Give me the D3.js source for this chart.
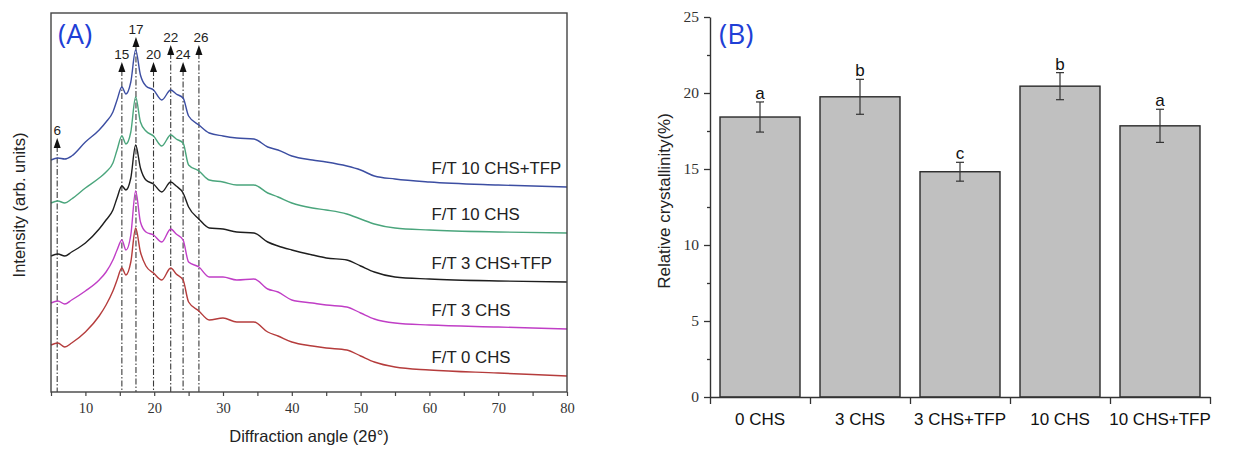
<!DOCTYPE html>
<html><head><meta charset="utf-8">
<script src="https://cdn.jsdelivr.net/npm/d3@7"></script>
<style>body{margin:0;background:#fff}</style>
</head><body>
<svg id="c" width="1237" height="454"></svg>
<script>
// ---------- Panel A data ----------
const angles = [5,6,7,8,10,12,13,14,14.6,15.3,15.9,16.6,17.3,18,18.8,19.9,21.1,22.4,23.2,24.2,25,26.5,28,30,32,34.5,36.5,38,40,43,45,48,50,52,55,60,70,80];
const intensity0CHS = [47,49,45,49,60,76,87,101,112,124,117,130,164,140,126,119,112,124,118,112,90,81,72,74,70,70,60,56,50,46,44,42,36,30,25,22,19,16];
const intensity3CHS = [89,91,88,92,101,112,120,132,142,152,142,157,201,170,160,157,150,163,158,152,130,125,115,115,112,113,103,100,92,89,87,85,79,73,69,67,65,63];
const intensity3CHSTFP = [136,138,136,140,149,163,172,182,194,206,202,214,247,224,212,208,200,210,206,199,185,173,164,163,160,159,150,146,142,137,134,132,126,120,115,113,111,110];
const intensity10CHS = [189,191,189,193,204,214,220,229,242,256,248,260,295,270,261,256,246,257,253,249,227,221,212,210,207,207,199,195,189,184,182,178,173,168,164,162,160,159];
const intensity10CHSTFP = [232,234,233,236,250,262,270,280,292,305,298,310,342,317,306,302,292,302,298,294,276,267,259,256,254,253,245,242,236,232,230,226,222,216,213,210,207,205];
const seriesNames = ["F/T 0 CHS","F/T 3 CHS","F/T 3 CHS+TFP","F/T 10 CHS","F/T 10 CHS+TFP"];
const seriesColors = ["#b53c3c","#c03ec6","#1e1e1e","#4aa57c","#3c4ea2"];
const seriesValues = [intensity0CHS,intensity3CHS,intensity3CHSTFP,intensity10CHS,intensity10CHSTFP];
const peakLabels = ["6","15","17","20","22","24","26"];
const peakAngles = [5.9,15.3,17.35,19.9,22.4,24.2,26.5];
const peakTops = [254,330,355,330,347,330,347];
const xTicksA = [10,20,30,40,50,60,70,80];
const xMinorA = [5,15,25,35,45,55,65,75];

// ---------- Panel B data ----------
const categories = ["0 CHS","3 CHS","3 CHS+TFP","10 CHS","10 CHS+TFP"];
const crystallinity = [18.42,19.75,14.82,20.45,17.84];
const errors = [0.99,1.15,0.62,0.89,1.09];
const letters = ["a","b","c","b","a"];
const yTicksB = [0,5,10,15,20,25];
const yMinorB = [2.5,7.5,12.5,17.5,22.5];

const svg = d3.select("#c");
const sans = "'Liberation Sans', Arial, sans-serif";
const serif = "'Liberation Serif', 'Times New Roman', serif";

// ================= Panel A =================
const A = {l:51, r:567, t:13, b:392};
const xA = d3.scaleLinear().domain([5,80]).range([A.l, A.r]);
const yA = d3.scaleLinear().domain([0,379]).range([A.b, A.t]);

const gA = svg.append("g");

// dash-dot reference lines with arrows
peakAngles.forEach((a,i)=>{
  const x = xA(a), yt = yA(peakTops[i]);
  gA.append("line").attr("x1",x).attr("x2",x).attr("y1",yt+8).attr("y2",A.b)
    .attr("stroke","#3a3a3a").attr("stroke-width",1.1).attr("stroke-dasharray","6,2,1.5,2");
  gA.append("path").attr("d",`M${x},${yt} L${x-3.5},${yt+10} L${x+3.5},${yt+10} Z`).attr("fill","#111");
  gA.append("text").attr("x",x+(i===6?2:0)).attr("y",yt-3.5).attr("text-anchor","middle")
    .attr("font-family",sans).attr("font-size",13.5).attr("fill","#222").text(peakLabels[i]);
});

// curves
const line = d3.line().x((d,i)=>xA(angles[i])).y(d=>yA(d)).curve(d3.curveMonotoneX);
seriesValues.forEach((vals,k)=>{
  gA.append("path").attr("d",line(vals)).attr("fill","none")
    .attr("stroke",seriesColors[k]).attr("stroke-width",1.4);
  gA.append("text").attr("x",A.r-135.5).attr("y",yA(vals[vals.length-1])-13.5)
    .attr("font-family",sans).attr("font-size",16.8).attr("fill","#222").text(seriesNames[k]);
});

// frame
gA.append("rect").attr("x",A.l).attr("y",A.t).attr("width",A.r-A.l).attr("height",A.b-A.t)
  .attr("fill","none").attr("stroke","#444").attr("stroke-width",1.4);

// x axis
const axA = gA.append("g").attr("transform",`translate(0,${A.b})`)
  .call(d3.axisBottom(xA).tickValues(xTicksA).tickSize(4).tickSizeOuter(0).tickFormat(d3.format("d")));
axA.select(".domain").remove();
axA.selectAll("line").attr("stroke","#444").attr("stroke-width",1.2);
axA.selectAll("text").attr("font-family",serif).attr("font-size",14.5).attr("fill","#333").attr("dy","0.95em");
const axAm = gA.append("g").attr("transform",`translate(0,${A.b})`)
  .call(d3.axisBottom(xA).tickValues(xMinorA).tickSize(4).tickSizeOuter(0).tickFormat(""));
axAm.select(".domain").remove();
axAm.selectAll("line").attr("stroke","#444").attr("stroke-width",1.2);

gA.append("text").attr("x",(A.l+A.r)/2).attr("y",442).attr("text-anchor","middle")
  .attr("font-family",sans).attr("font-size",16.5).attr("fill","#222").text("Diffraction angle (2θ°)");
gA.append("text").attr("transform","translate(25,205) rotate(-90)").attr("text-anchor","middle")
  .attr("font-family",sans).attr("font-size",16.5).attr("fill","#222").text("Intensity (arb. units)");
gA.append("text").attr("x",58).attr("y",44).attr("font-family","'Open Sans', sans-serif")
  .attr("font-size",28).attr("fill","#1f3fd6").text("(A)");

// ================= Panel B =================
const B = {l:710, r:1210, t:17, b:397};
const xB = d3.scaleBand().domain(categories).range([B.l,B.r]).paddingInner(0.2).paddingOuter(0.1);
const xBlin = d3.scaleLinear().domain([0,categories.length]).range([B.l,B.r]);
const yB = d3.scaleLinear().domain([0,25]).range([B.b,B.t]);
const gB = svg.append("g");

gB.selectAll("rect.bar").data(crystallinity).join("rect").attr("class","bar")
  .attr("x",(d,i)=>xB(categories[i])).attr("width",xB.bandwidth())
  .attr("y",d=>yB(d)).attr("height",d=>yB(0)-yB(d))
  .attr("fill","#c0c0c0").attr("stroke","#2a2a2a").attr("stroke-width",1.4);

crystallinity.forEach((v,i)=>{
  const cx = xB(categories[i]) + xB.bandwidth()/2;
  const y1 = yB(v+errors[i]), y2 = yB(v-errors[i]);
  gB.append("line").attr("x1",cx).attr("x2",cx).attr("y1",y1).attr("y2",y2).attr("stroke","#333").attr("stroke-width",1.2);
  [y1,y2].forEach(yy=>gB.append("line").attr("x1",cx-4).attr("x2",cx+4).attr("y1",yy).attr("y2",yy).attr("stroke","#333").attr("stroke-width",1.2));
  gB.append("text").attr("x",cx).attr("y",y1-3).attr("text-anchor","middle")
    .attr("font-family",sans).attr("font-size",17).attr("fill","#111").text(letters[i]);
});

// y axis
const ayB = gB.append("g").attr("transform",`translate(${B.l},0)`)
  .call(d3.axisLeft(yB).tickValues(yTicksB).tickSize(6).tickSizeOuter(0));
ayB.select(".domain").attr("stroke","#333").attr("stroke-width",1.4);
ayB.selectAll("line").attr("stroke","#333").attr("stroke-width",1.3);
ayB.selectAll("text").attr("font-family",serif).attr("font-size",15.5).attr("fill","#333").attr("x",-11);
const ayBm = gB.append("g").attr("transform",`translate(${B.l},0)`)
  .call(d3.axisLeft(yB).tickValues(yMinorB).tickSize(3).tickFormat(""));
ayBm.select(".domain").remove();
ayBm.selectAll("line").attr("stroke","#333").attr("stroke-width",1.3);

// x axis: boundary ticks + category labels
const axB = gB.append("g").attr("transform",`translate(0,${B.b})`)
  .call(d3.axisBottom(xBlin).ticks(categories.length).tickSize(7).tickSizeOuter(0).tickFormat(""));
axB.select(".domain").attr("stroke","#333").attr("stroke-width",1.4);
axB.selectAll("line").attr("stroke","#333").attr("stroke-width",1.3);
const axBl = gB.append("g").attr("transform",`translate(0,${B.b})`)
  .call(d3.axisBottom(xB).tickSize(0).tickSizeOuter(0));
axBl.select(".domain").remove();
axBl.selectAll("text").attr("font-family",sans).attr("font-size",17).attr("fill","#111").attr("dy","1.45em");

gB.append("text").attr("transform","translate(670,201) rotate(-90)").attr("text-anchor","middle")
  .attr("font-family",sans).attr("font-size",17).attr("fill","#222").text("Relative crystallinity(%)");
gB.append("text").attr("x",719).attr("y",44).attr("font-family","'Open Sans', sans-serif")
  .attr("font-size",28).attr("fill","#1f3fd6").text("(B)");
</script>
</body></html>
